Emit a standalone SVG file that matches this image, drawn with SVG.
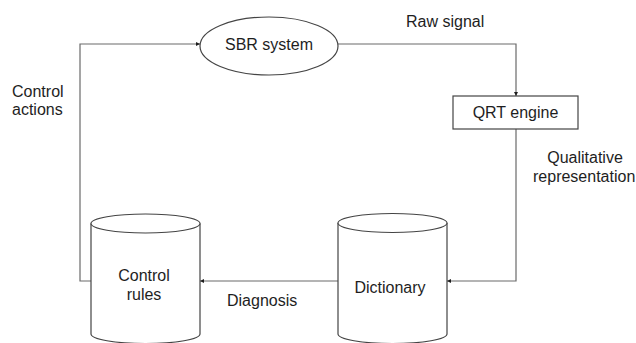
<svg xmlns="http://www.w3.org/2000/svg" width="636" height="343" viewBox="0 0 636 343">
  <style>
    .shape { fill: #ffffff; stroke: #444444; stroke-width: 1.2; }
    .wire { fill: none; stroke: #6a6a6a; stroke-width: 1.2; }
    .label { font-family: "Liberation Sans", Arial, sans-serif; font-size: 16px; fill: #1e1e1e; }
    .mid { text-anchor: middle; }
  </style>
  <defs>
    <marker id="head" viewBox="0 0 4 4" refX="4" refY="2" markerWidth="4" markerHeight="4" markerUnits="userSpaceOnUse" orient="auto">
      <path d="M0,0 L4,2 L0,4 Z" fill="#1e1e1e"/>
    </marker>
  </defs>
  <rect width="636" height="343" fill="#ffffff"/>

  <g id="connectors">
    <!-- control rules back up to the SBR system -->
    <path class="wire" d="M91,281 H80 V44 H200" marker-end="url(#head)"/>
    <!-- SBR system to QRT engine -->
    <path class="wire" d="M338,44 H516 V96" marker-end="url(#head)"/>
    <!-- QRT engine to dictionary -->
    <path class="wire" d="M516,129 V281 H447" marker-end="url(#head)"/>
    <!-- dictionary to control rules -->
    <path class="wire" d="M338,281 H200" marker-end="url(#head)"/>
  </g>

  <g id="sbr-system">
    <ellipse class="shape" cx="269" cy="46" rx="69" ry="29"/>
    <text class="label mid" x="269" y="50">SBR system</text>
  </g>

  <g id="qrt-engine">
    <rect class="shape" x="453" y="96" width="125" height="33"/>
    <text class="label mid" x="515.5" y="118">QRT engine</text>
  </g>

  <g id="control-rules">
    <path class="shape" d="M91,223.5 V334 A54.5,9.5 0 0 0 200,334 V223.5"/>
    <ellipse class="shape" cx="145.5" cy="223.5" rx="54.5" ry="9.5"/>
    <text class="label mid" x="144" y="281">Control</text>
    <text class="label mid" x="144" y="300">rules</text>
  </g>

  <g id="dictionary">
    <path class="shape" d="M338,223 V334 A54.5,9.5 0 0 0 447,334 V223"/>
    <ellipse class="shape" cx="392.5" cy="223" rx="54.5" ry="9.5"/>
    <text class="label mid" x="390" y="293">Dictionary</text>
  </g>

  <g id="edge-labels">
    <text class="label" x="406" y="27">Raw signal</text>
    <text class="label" x="12" y="97">Control</text>
    <text class="label" x="12" y="115">actions</text>
    <text class="label mid" x="585" y="163">Qualitative</text>
    <text class="label" x="533" y="182">representation</text>
    <text class="label" x="227" y="306">Diagnosis</text>
  </g>
</svg>
